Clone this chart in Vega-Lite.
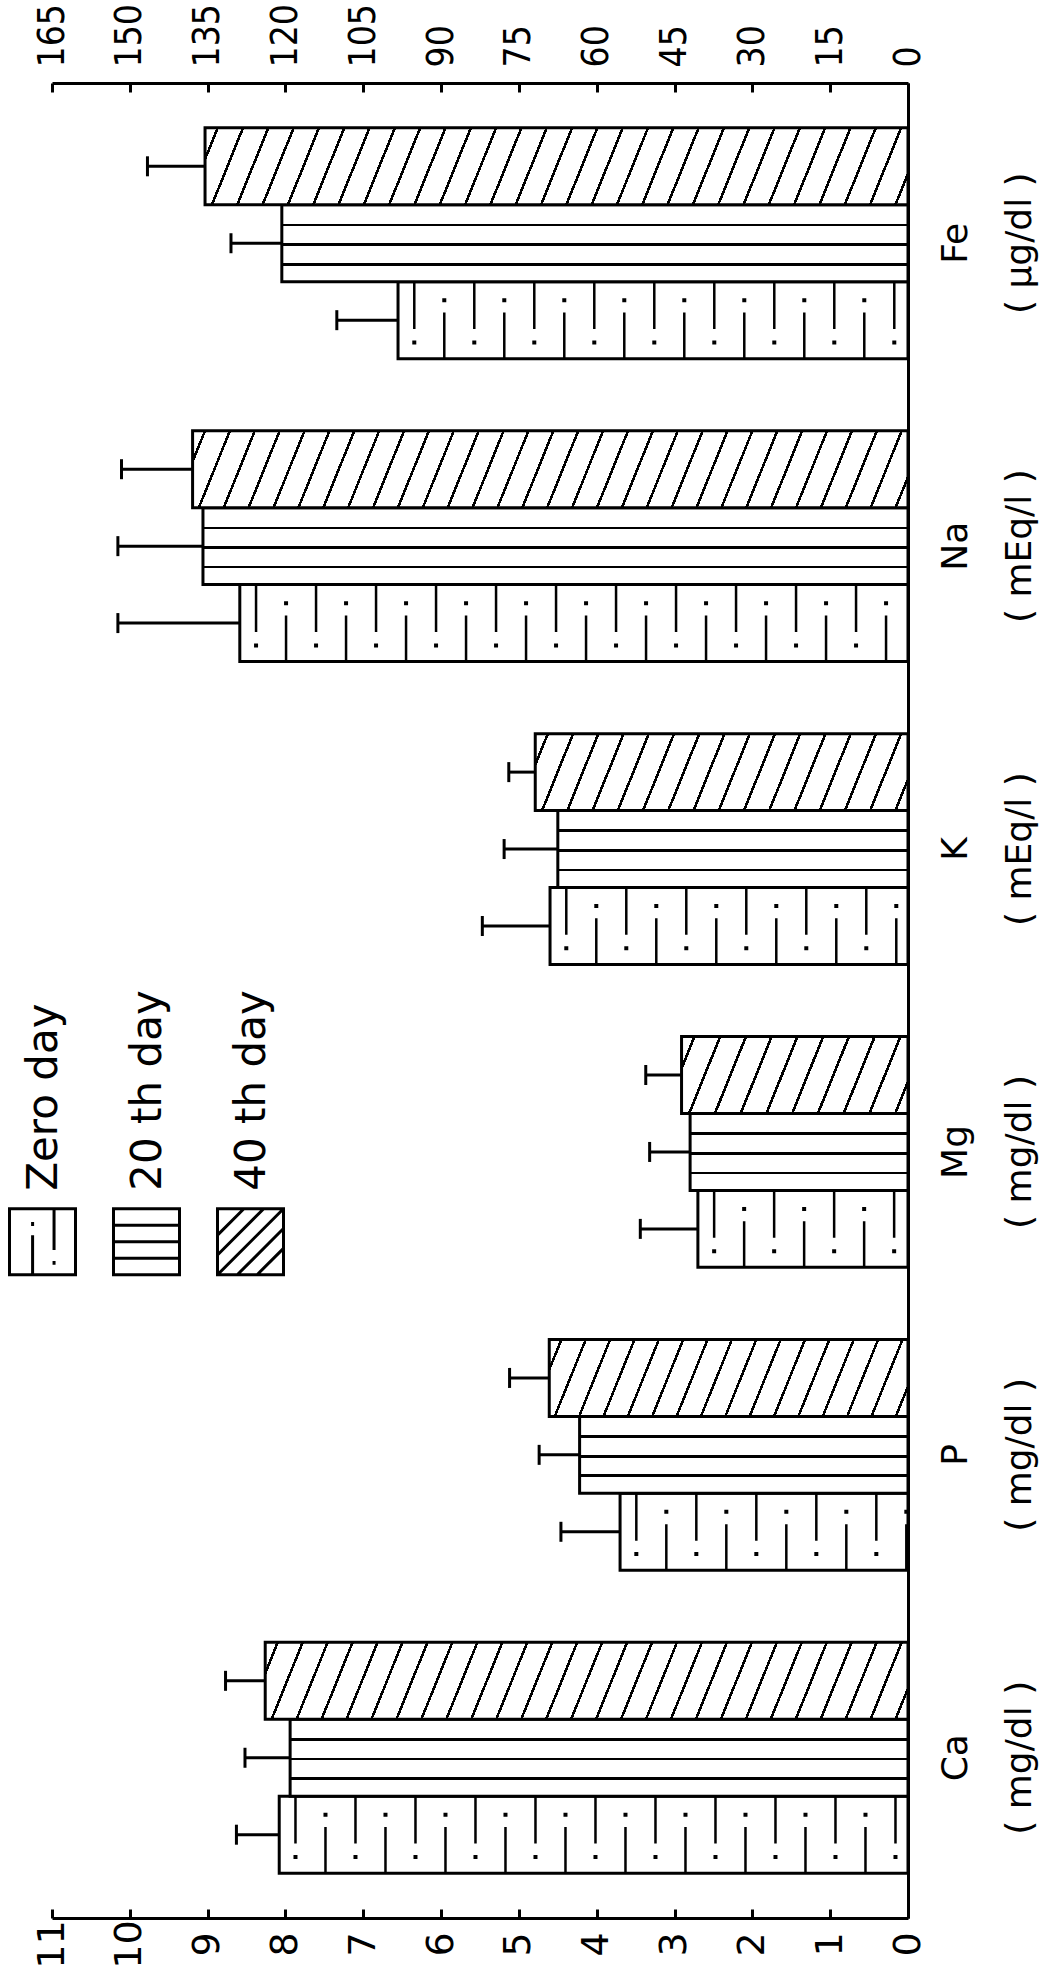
{
"$schema":"https://vega.github.io/schema/vega-lite/v6.json",
"width":856,"height":1835,
"autosize":{"type":"none"},
"padding":{"left":52,"top":83,"right":155,"bottom":56},
"background":"white",
"config":{"view":{"stroke":null},"font":"DejaVu Sans"},
"data":{"values":[
{"element":"Ca","day":"Zero day","value":8.08,"upper":8.63},
{"element":"Ca","day":"20 th day","value":7.94,"upper":8.52},
{"element":"Ca","day":"40 th day","value":8.26,"upper":8.77},
{"element":"P","day":"Zero day","value":3.70,"upper":4.46},
{"element":"P","day":"20 th day","value":4.22,"upper":4.74},
{"element":"P","day":"40 th day","value":4.61,"upper":5.12},
{"element":"Mg","day":"Zero day","value":2.70,"upper":3.44},
{"element":"Mg","day":"20 th day","value":2.80,"upper":3.32},
{"element":"Mg","day":"40 th day","value":2.91,"upper":3.37},
{"element":"K","day":"Zero day","value":4.60,"upper":5.47},
{"element":"K","day":"20 th day","value":4.50,"upper":5.19},
{"element":"K","day":"40 th day","value":4.79,"upper":5.13},
{"element":"Na","day":"Zero day","value":128.8,"upper":152.3},
{"element":"Na","day":"20 th day","value":135.9,"upper":152.3},
{"element":"Na","day":"40 th day","value":137.9,"upper":151.6},
{"element":"Fe","day":"Zero day","value":98.3,"upper":110.1},
{"element":"Fe","day":"20 th day","value":120.7,"upper":130.5},
{"element":"Fe","day":"40 th day","value":135.5,"upper":146.6}
]},
"layer":[
{
"transform":[{"filter":{"field":"element","oneOf":["Ca","P","Mg","K"]}}],
"encoding":{
"x":{"field":"value","type":"quantitative","title":null,"scale":{"domain":[0,11],"reverse":true,"nice":false,"zero":false},
"axis":{"orient":"bottom","values":[0,1,2,3,4,5,6,7,8,9,10,11],"title":null,"grid":false,"domainColor":"black","domainWidth":3,"tickColor":"black","tickWidth":3,"tickSize":-9,"labelAngle":-90,"labelAlign":"center","labelBaseline":"middle","labelFontSize":38,"labelFont":"DejaVu Sans","labelColor":"black","labelPadding":35,"labelFlush":false,"labelOverlap":false}},
"y":{"field":"element","type":"nominal","title":null,"sort":["Fe","Na","K","Mg","P","Ca"],"scale":{"domain":["Fe","Na","K","Mg","P","Ca"],"paddingInner":0.238,"paddingOuter":0.148},
"axis":{"orient":"right","title":null,"ticks":false,"grid":false,"domainColor":"black","domainWidth":3,"labelAngle":-90,"labelAlign":"center","labelBaseline":"top","labelFontSize":36,"labelFont":"DejaVu Sans","labelLineHeight":64,"labelPadding":30,"labelColor":"black","labelLimit":600,
"labelExpr":"datum.label === 'Fe' ? [datum.label, '( µg/dl )'] : ((datum.label === 'Na' || datum.label === 'K') ? [datum.label, '( mEq/l )'] : [datum.label, '( mg/dl )'])"}}
},
"layer":[
{"mark":{"type":"bar","stroke":"black","strokeWidth":3},
"encoding":{
"yOffset":{"field":"day","type":"nominal","sort":["40 th day","20 th day","Zero day"],"scale":{"domain":["40 th day","20 th day","Zero day"],"paddingInner":0,"paddingOuter":0}},
"fill":{"condition":[
{"test":"datum.day === '20 th day'","value":{"gradient":"linear","x1":0,"y1":0,"x2":0,"y2":1,"stops":[{"offset":0,"color":"#fff"},{"offset":0.245,"color":"#fff"},{"offset":0.245,"color":"#000"},{"offset":0.28,"color":"#000"},{"offset":0.28,"color":"#fff"},{"offset":0.5,"color":"#fff"},{"offset":0.5,"color":"#000"},{"offset":0.535,"color":"#000"},{"offset":0.535,"color":"#fff"},{"offset":0.755,"color":"#fff"},{"offset":0.755,"color":"#000"},{"offset":0.79,"color":"#000"},{"offset":0.79,"color":"#fff"},{"offset":1,"color":"#fff"}]}},
{"test":"datum.day === '40 th day' && datum.element === 'Ca'","value":{"gradient":"linear","x1":0,"y1":0,"x2":1.0459,"y2":0.05056,"stops":[{"offset":0,"color":"#fff"},
{"offset":0.0165,"color":"#fff"},{"offset":0.0165,"color":"#000"},{"offset":0.0206,"color":"#000"},{"offset":0.0206,"color":"#fff"},
{"offset":0.0535,"color":"#fff"},{"offset":0.0535,"color":"#000"},{"offset":0.0576,"color":"#000"},{"offset":0.0576,"color":"#fff"},
{"offset":0.0906,"color":"#fff"},{"offset":0.0906,"color":"#000"},{"offset":0.0946,"color":"#000"},{"offset":0.0946,"color":"#fff"},
{"offset":0.1276,"color":"#fff"},{"offset":0.1276,"color":"#000"},{"offset":0.1317,"color":"#000"},{"offset":0.1317,"color":"#fff"},
{"offset":0.1646,"color":"#fff"},{"offset":0.1646,"color":"#000"},{"offset":0.1687,"color":"#000"},{"offset":0.1687,"color":"#fff"},
{"offset":0.2017,"color":"#fff"},{"offset":0.2017,"color":"#000"},{"offset":0.2057,"color":"#000"},{"offset":0.2057,"color":"#fff"},
{"offset":0.2387,"color":"#fff"},{"offset":0.2387,"color":"#000"},{"offset":0.2428,"color":"#000"},{"offset":0.2428,"color":"#fff"},
{"offset":0.2757,"color":"#fff"},{"offset":0.2757,"color":"#000"},{"offset":0.2798,"color":"#000"},{"offset":0.2798,"color":"#fff"},
{"offset":0.3128,"color":"#fff"},{"offset":0.3128,"color":"#000"},{"offset":0.3169,"color":"#000"},{"offset":0.3169,"color":"#fff"},
{"offset":0.3498,"color":"#fff"},{"offset":0.3498,"color":"#000"},{"offset":0.3539,"color":"#000"},{"offset":0.3539,"color":"#fff"},
{"offset":0.3869,"color":"#fff"},{"offset":0.3869,"color":"#000"},{"offset":0.3909,"color":"#000"},{"offset":0.3909,"color":"#fff"},
{"offset":0.4239,"color":"#fff"},{"offset":0.4239,"color":"#000"},{"offset":0.4280,"color":"#000"},{"offset":0.4280,"color":"#fff"},
{"offset":0.4609,"color":"#fff"},{"offset":0.4609,"color":"#000"},{"offset":0.4650,"color":"#000"},{"offset":0.4650,"color":"#fff"},
{"offset":0.4980,"color":"#fff"},{"offset":0.4980,"color":"#000"},{"offset":0.5020,"color":"#000"},{"offset":0.5020,"color":"#fff"},
{"offset":0.5350,"color":"#fff"},{"offset":0.5350,"color":"#000"},{"offset":0.5391,"color":"#000"},{"offset":0.5391,"color":"#fff"},
{"offset":0.5720,"color":"#fff"},{"offset":0.5720,"color":"#000"},{"offset":0.5761,"color":"#000"},{"offset":0.5761,"color":"#fff"},
{"offset":0.6091,"color":"#fff"},{"offset":0.6091,"color":"#000"},{"offset":0.6131,"color":"#000"},{"offset":0.6131,"color":"#fff"},
{"offset":0.6461,"color":"#fff"},{"offset":0.6461,"color":"#000"},{"offset":0.6502,"color":"#000"},{"offset":0.6502,"color":"#fff"},
{"offset":0.6831,"color":"#fff"},{"offset":0.6831,"color":"#000"},{"offset":0.6872,"color":"#000"},{"offset":0.6872,"color":"#fff"},
{"offset":0.7202,"color":"#fff"},{"offset":0.7202,"color":"#000"},{"offset":0.7243,"color":"#000"},{"offset":0.7243,"color":"#fff"},
{"offset":0.7572,"color":"#fff"},{"offset":0.7572,"color":"#000"},{"offset":0.7613,"color":"#000"},{"offset":0.7613,"color":"#fff"},
{"offset":0.7942,"color":"#fff"},{"offset":0.7942,"color":"#000"},{"offset":0.7983,"color":"#000"},{"offset":0.7983,"color":"#fff"},
{"offset":0.8313,"color":"#fff"},{"offset":0.8313,"color":"#000"},{"offset":0.8354,"color":"#000"},{"offset":0.8354,"color":"#fff"},
{"offset":0.8683,"color":"#fff"},{"offset":0.8683,"color":"#000"},{"offset":0.8724,"color":"#000"},{"offset":0.8724,"color":"#fff"},
{"offset":0.9054,"color":"#fff"},{"offset":0.9054,"color":"#000"},{"offset":0.9094,"color":"#000"},{"offset":0.9094,"color":"#fff"},
{"offset":0.9424,"color":"#fff"},{"offset":0.9424,"color":"#000"},{"offset":0.9465,"color":"#000"},{"offset":0.9465,"color":"#fff"},
{"offset":0.9794,"color":"#fff"},{"offset":0.9794,"color":"#000"},{"offset":0.9835,"color":"#000"},{"offset":0.9835,"color":"#fff"},
{"offset":1,"color":"#fff"}]}},
{"test":"datum.day === '40 th day' && datum.element === 'P'","value":{"gradient":"linear","x1":0,"y1":0,"x2":1.0785,"y2":0.09339,"stops":[{"offset":0,"color":"#fff"},
{"offset":0.0278,"color":"#fff"},{"offset":0.0278,"color":"#000"},{"offset":0.0347,"color":"#000"},{"offset":0.0347,"color":"#fff"},
{"offset":0.0903,"color":"#fff"},{"offset":0.0903,"color":"#000"},{"offset":0.0972,"color":"#000"},{"offset":0.0972,"color":"#fff"},
{"offset":0.1528,"color":"#fff"},{"offset":0.1528,"color":"#000"},{"offset":0.1597,"color":"#000"},{"offset":0.1597,"color":"#fff"},
{"offset":0.2153,"color":"#fff"},{"offset":0.2153,"color":"#000"},{"offset":0.2222,"color":"#000"},{"offset":0.2222,"color":"#fff"},
{"offset":0.2778,"color":"#fff"},{"offset":0.2778,"color":"#000"},{"offset":0.2847,"color":"#000"},{"offset":0.2847,"color":"#fff"},
{"offset":0.3403,"color":"#fff"},{"offset":0.3403,"color":"#000"},{"offset":0.3472,"color":"#000"},{"offset":0.3472,"color":"#fff"},
{"offset":0.4028,"color":"#fff"},{"offset":0.4028,"color":"#000"},{"offset":0.4097,"color":"#000"},{"offset":0.4097,"color":"#fff"},
{"offset":0.4653,"color":"#fff"},{"offset":0.4653,"color":"#000"},{"offset":0.4722,"color":"#000"},{"offset":0.4722,"color":"#fff"},
{"offset":0.5278,"color":"#fff"},{"offset":0.5278,"color":"#000"},{"offset":0.5347,"color":"#000"},{"offset":0.5347,"color":"#fff"},
{"offset":0.5903,"color":"#fff"},{"offset":0.5903,"color":"#000"},{"offset":0.5972,"color":"#000"},{"offset":0.5972,"color":"#fff"},
{"offset":0.6528,"color":"#fff"},{"offset":0.6528,"color":"#000"},{"offset":0.6597,"color":"#000"},{"offset":0.6597,"color":"#fff"},
{"offset":0.7153,"color":"#fff"},{"offset":0.7153,"color":"#000"},{"offset":0.7222,"color":"#000"},{"offset":0.7222,"color":"#fff"},
{"offset":0.7778,"color":"#fff"},{"offset":0.7778,"color":"#000"},{"offset":0.7847,"color":"#000"},{"offset":0.7847,"color":"#fff"},
{"offset":0.8403,"color":"#fff"},{"offset":0.8403,"color":"#000"},{"offset":0.8472,"color":"#000"},{"offset":0.8472,"color":"#fff"},
{"offset":0.9028,"color":"#fff"},{"offset":0.9028,"color":"#000"},{"offset":0.9097,"color":"#000"},{"offset":0.9097,"color":"#fff"},
{"offset":0.9653,"color":"#fff"},{"offset":0.9653,"color":"#000"},{"offset":0.9722,"color":"#000"},{"offset":0.9722,"color":"#fff"},
{"offset":1,"color":"#fff"}]}},
{"test":"datum.day === '40 th day' && datum.element === 'Mg'","value":{"gradient":"linear","x1":0,"y1":0,"x2":1.11617,"y2":0.15311,"stops":[{"offset":0,"color":"#fff"},
{"offset":0.0445,"color":"#fff"},{"offset":0.0445,"color":"#000"},{"offset":0.0555,"color":"#000"},{"offset":0.0555,"color":"#fff"},
{"offset":0.1445,"color":"#fff"},{"offset":0.1445,"color":"#000"},{"offset":0.1555,"color":"#000"},{"offset":0.1555,"color":"#fff"},
{"offset":0.2445,"color":"#fff"},{"offset":0.2445,"color":"#000"},{"offset":0.2555,"color":"#000"},{"offset":0.2555,"color":"#fff"},
{"offset":0.3445,"color":"#fff"},{"offset":0.3445,"color":"#000"},{"offset":0.3555,"color":"#000"},{"offset":0.3555,"color":"#fff"},
{"offset":0.4445,"color":"#fff"},{"offset":0.4445,"color":"#000"},{"offset":0.4555,"color":"#000"},{"offset":0.4555,"color":"#fff"},
{"offset":0.5445,"color":"#fff"},{"offset":0.5445,"color":"#000"},{"offset":0.5555,"color":"#000"},{"offset":0.5555,"color":"#fff"},
{"offset":0.6445,"color":"#fff"},{"offset":0.6445,"color":"#000"},{"offset":0.6555,"color":"#000"},{"offset":0.6555,"color":"#fff"},
{"offset":0.7445,"color":"#fff"},{"offset":0.7445,"color":"#000"},{"offset":0.7555,"color":"#000"},{"offset":0.7555,"color":"#fff"},
{"offset":0.8445,"color":"#fff"},{"offset":0.8445,"color":"#000"},{"offset":0.8555,"color":"#000"},{"offset":0.8555,"color":"#fff"},
{"offset":0.9445,"color":"#fff"},{"offset":0.9445,"color":"#000"},{"offset":0.9555,"color":"#000"},{"offset":0.9555,"color":"#fff"},
{"offset":1,"color":"#fff"}]}},
{"test":"datum.day === '40 th day' && datum.element === 'K'","value":{"gradient":"linear","x1":0,"y1":0,"x2":1.07587,"y2":0.08966,"stops":[{"offset":0,"color":"#fff"},
{"offset":0.0278,"color":"#fff"},{"offset":0.0278,"color":"#000"},{"offset":0.0347,"color":"#000"},{"offset":0.0347,"color":"#fff"},
{"offset":0.0903,"color":"#fff"},{"offset":0.0903,"color":"#000"},{"offset":0.0972,"color":"#000"},{"offset":0.0972,"color":"#fff"},
{"offset":0.1528,"color":"#fff"},{"offset":0.1528,"color":"#000"},{"offset":0.1597,"color":"#000"},{"offset":0.1597,"color":"#fff"},
{"offset":0.2153,"color":"#fff"},{"offset":0.2153,"color":"#000"},{"offset":0.2222,"color":"#000"},{"offset":0.2222,"color":"#fff"},
{"offset":0.2778,"color":"#fff"},{"offset":0.2778,"color":"#000"},{"offset":0.2847,"color":"#000"},{"offset":0.2847,"color":"#fff"},
{"offset":0.3403,"color":"#fff"},{"offset":0.3403,"color":"#000"},{"offset":0.3472,"color":"#000"},{"offset":0.3472,"color":"#fff"},
{"offset":0.4028,"color":"#fff"},{"offset":0.4028,"color":"#000"},{"offset":0.4097,"color":"#000"},{"offset":0.4097,"color":"#fff"},
{"offset":0.4653,"color":"#fff"},{"offset":0.4653,"color":"#000"},{"offset":0.4722,"color":"#000"},{"offset":0.4722,"color":"#fff"},
{"offset":0.5278,"color":"#fff"},{"offset":0.5278,"color":"#000"},{"offset":0.5347,"color":"#000"},{"offset":0.5347,"color":"#fff"},
{"offset":0.5903,"color":"#fff"},{"offset":0.5903,"color":"#000"},{"offset":0.5972,"color":"#000"},{"offset":0.5972,"color":"#fff"},
{"offset":0.6528,"color":"#fff"},{"offset":0.6528,"color":"#000"},{"offset":0.6597,"color":"#000"},{"offset":0.6597,"color":"#fff"},
{"offset":0.7153,"color":"#fff"},{"offset":0.7153,"color":"#000"},{"offset":0.7222,"color":"#000"},{"offset":0.7222,"color":"#fff"},
{"offset":0.7778,"color":"#fff"},{"offset":0.7778,"color":"#000"},{"offset":0.7847,"color":"#000"},{"offset":0.7847,"color":"#fff"},
{"offset":0.8403,"color":"#fff"},{"offset":0.8403,"color":"#000"},{"offset":0.8472,"color":"#000"},{"offset":0.8472,"color":"#fff"},
{"offset":0.9028,"color":"#fff"},{"offset":0.9028,"color":"#000"},{"offset":0.9097,"color":"#000"},{"offset":0.9097,"color":"#fff"},
{"offset":0.9653,"color":"#fff"},{"offset":0.9653,"color":"#000"},{"offset":0.9722,"color":"#000"},{"offset":0.9722,"color":"#fff"},
{"offset":1,"color":"#fff"}]}}
],"value":"white"}
}},
{"transform":[{"filter":"datum.day === 'Zero day'"}],
"mark":{"type":"rule","color":"black","strokeWidth":47,"strokeDash":[2.5,57.5],"strokeDashOffset":-15},
"encoding":{"y":{"field":"element","type":"nominal","title":null,"bandPosition":0.77},"x2":{"datum":0}}},
{"transform":[{"filter":"datum.day === 'Zero day'"}],
"mark":{"type":"rule","color":"black","strokeWidth":46,"strokeDash":[2.5,57.5],"strokeDashOffset":-45},
"encoding":{"y":{"field":"element","type":"nominal","title":null,"bandPosition":0.9},"x2":{"datum":0}}},
{"transform":[{"filter":"datum.day === 'Zero day'"}],
"mark":{"type":"rule","color":"black","strokeWidth":4,"strokeDash":[4,56],"strokeDashOffset":-14.25},
"encoding":{"y":{"field":"element","type":"nominal","title":null,"bandPosition":0.93},"x2":{"datum":0}}},
{"transform":[{"filter":"datum.day === 'Zero day'"}],
"mark":{"type":"rule","color":"black","strokeWidth":4,"strokeDash":[4,56],"strokeDashOffset":-44.25},
"encoding":{"y":{"field":"element","type":"nominal","title":null,"bandPosition":0.747},"x2":{"datum":0}}},
{"mark":{"type":"rule","color":"black","strokeWidth":3},
"encoding":{"yOffset":{"field":"day","type":"nominal","sort":["40 th day","20 th day","Zero day"],"scale":{"domain":["40 th day","20 th day","Zero day"],"paddingInner":0,"paddingOuter":0}},"x2":{"field":"upper"}}},
{"mark":{"type":"tick","color":"black","thickness":3,"size":20,"opacity":1},
"encoding":{"yOffset":{"field":"day","type":"nominal","sort":["40 th day","20 th day","Zero day"],"scale":{"domain":["40 th day","20 th day","Zero day"],"paddingInner":0,"paddingOuter":0}},
"x":{"field":"upper","type":"quantitative","title":null}}},
{"transform":[{"filter":"false"}],
"mark":{"type":"point","filled":false,"stroke":"black","strokeWidth":3,"opacity":1},
"encoding":{"shape":{"field":"day","type":"nominal",
"scale":{"domain":["Zero day","20 th day","40 th day"],"range":["M-1,-1H1V1H-1Z M-0.3,1V-0.2 M-0.3,-0.6V-0.48 M0.35,-1V0.25 M0.35,0.58V0.7","M-1,-1H1V1H-1Z M-1,-0.5H1 M-1,0H1 M-1,0.5H1","M-1,-1H1V1H-1Z M-1,-0.2L-0.2,-1 M-1,0.4L0.4,-1 M-1,1L1,-1 M-0.4,1L1,-0.4 M0.2,1L1,0.2"]},
"legend":{"orient":"none","legendX":-44,"legendY":1124,"direction":"horizontal","title":null,"symbolSize":4356,"symbolStrokeWidth":3,"symbolStrokeColor":"black","symbolFillColor":"white","columnPadding":25,"labelFontSize":42,"labelFont":"DejaVu Sans","labelColor":"black","labelLimit":600,"labelOffset":-33,"labelAlign":"left","labelBaseline":"middle",
"encoding":{"labels":{"angle":{"value":-90},"dx":{"value":51}}}}}}}
]
},
{
"transform":[{"filter":{"field":"element","oneOf":["Na","Fe"]}}],
"encoding":{
"x":{"field":"value","type":"quantitative","title":null,"scale":{"domain":[0,165],"reverse":true,"nice":false,"zero":false},
"axis":{"orient":"top","values":[0,15,30,45,60,75,90,105,120,135,150,165],"title":null,"grid":false,"domainColor":"black","domainWidth":3,"tickColor":"black","tickWidth":3,"tickSize":-9,"labelAngle":-90,"labelAlign":"left","labelBaseline":"middle","labelFontSize":37,"labelFont":"DejaVu Sans Condensed, DejaVu Sans","labelColor":"black","labelPadding":25,"labelFlush":false,"labelOverlap":false}},
"y":{"field":"element","type":"nominal","title":null,"sort":["Fe","Na","K","Mg","P","Ca"],"scale":{"domain":["Fe","Na","K","Mg","P","Ca"],"paddingInner":0.238,"paddingOuter":0.148},
"axis":{"orient":"right","title":null,"ticks":false,"grid":false,"domainColor":"black","domainWidth":3,"labelAngle":-90,"labelAlign":"center","labelBaseline":"top","labelFontSize":36,"labelFont":"DejaVu Sans","labelLineHeight":64,"labelPadding":30,"labelColor":"black","labelLimit":600,
"labelExpr":"datum.label === 'Fe' ? [datum.label, '( µg/dl )'] : ((datum.label === 'Na' || datum.label === 'K') ? [datum.label, '( mEq/l )'] : [datum.label, '( mg/dl )'])"}}
},
"layer":[
{"mark":{"type":"bar","stroke":"black","strokeWidth":3},
"encoding":{
"yOffset":{"field":"day","type":"nominal","sort":["40 th day","20 th day","Zero day"],"scale":{"domain":["40 th day","20 th day","Zero day"],"paddingInner":0,"paddingOuter":0}},
"fill":{"condition":[
{"test":"datum.day === '20 th day'","value":{"gradient":"linear","x1":0,"y1":0,"x2":0,"y2":1,"stops":[{"offset":0,"color":"#fff"},{"offset":0.245,"color":"#fff"},{"offset":0.245,"color":"#000"},{"offset":0.28,"color":"#000"},{"offset":0.28,"color":"#fff"},{"offset":0.5,"color":"#fff"},{"offset":0.5,"color":"#000"},{"offset":0.535,"color":"#000"},{"offset":0.535,"color":"#fff"},{"offset":0.755,"color":"#fff"},{"offset":0.755,"color":"#000"},{"offset":0.79,"color":"#000"},{"offset":0.79,"color":"#fff"},{"offset":1,"color":"#fff"}]}},
{"test":"datum.day === '40 th day' && datum.element === 'Na'","value":{"gradient":"linear","x1":0,"y1":0,"x2":1.04147,"y2":0.04523,"stops":[{"offset":0,"color":"#fff"},
{"offset":0.0148,"color":"#fff"},{"offset":0.0148,"color":"#000"},{"offset":0.0185,"color":"#000"},{"offset":0.0185,"color":"#fff"},
{"offset":0.0482,"color":"#fff"},{"offset":0.0482,"color":"#000"},{"offset":0.0518,"color":"#000"},{"offset":0.0518,"color":"#fff"},
{"offset":0.0815,"color":"#fff"},{"offset":0.0815,"color":"#000"},{"offset":0.0852,"color":"#000"},{"offset":0.0852,"color":"#fff"},
{"offset":0.1148,"color":"#fff"},{"offset":0.1148,"color":"#000"},{"offset":0.1185,"color":"#000"},{"offset":0.1185,"color":"#fff"},
{"offset":0.1482,"color":"#fff"},{"offset":0.1482,"color":"#000"},{"offset":0.1518,"color":"#000"},{"offset":0.1518,"color":"#fff"},
{"offset":0.1815,"color":"#fff"},{"offset":0.1815,"color":"#000"},{"offset":0.1852,"color":"#000"},{"offset":0.1852,"color":"#fff"},
{"offset":0.2148,"color":"#fff"},{"offset":0.2148,"color":"#000"},{"offset":0.2185,"color":"#000"},{"offset":0.2185,"color":"#fff"},
{"offset":0.2482,"color":"#fff"},{"offset":0.2482,"color":"#000"},{"offset":0.2518,"color":"#000"},{"offset":0.2518,"color":"#fff"},
{"offset":0.2815,"color":"#fff"},{"offset":0.2815,"color":"#000"},{"offset":0.2852,"color":"#000"},{"offset":0.2852,"color":"#fff"},
{"offset":0.3148,"color":"#fff"},{"offset":0.3148,"color":"#000"},{"offset":0.3185,"color":"#000"},{"offset":0.3185,"color":"#fff"},
{"offset":0.3482,"color":"#fff"},{"offset":0.3482,"color":"#000"},{"offset":0.3518,"color":"#000"},{"offset":0.3518,"color":"#fff"},
{"offset":0.3815,"color":"#fff"},{"offset":0.3815,"color":"#000"},{"offset":0.3852,"color":"#000"},{"offset":0.3852,"color":"#fff"},
{"offset":0.4148,"color":"#fff"},{"offset":0.4148,"color":"#000"},{"offset":0.4185,"color":"#000"},{"offset":0.4185,"color":"#fff"},
{"offset":0.4482,"color":"#fff"},{"offset":0.4482,"color":"#000"},{"offset":0.4518,"color":"#000"},{"offset":0.4518,"color":"#fff"},
{"offset":0.4815,"color":"#fff"},{"offset":0.4815,"color":"#000"},{"offset":0.4852,"color":"#000"},{"offset":0.4852,"color":"#fff"},
{"offset":0.5148,"color":"#fff"},{"offset":0.5148,"color":"#000"},{"offset":0.5185,"color":"#000"},{"offset":0.5185,"color":"#fff"},
{"offset":0.5482,"color":"#fff"},{"offset":0.5482,"color":"#000"},{"offset":0.5518,"color":"#000"},{"offset":0.5518,"color":"#fff"},
{"offset":0.5815,"color":"#fff"},{"offset":0.5815,"color":"#000"},{"offset":0.5852,"color":"#000"},{"offset":0.5852,"color":"#fff"},
{"offset":0.6148,"color":"#fff"},{"offset":0.6148,"color":"#000"},{"offset":0.6185,"color":"#000"},{"offset":0.6185,"color":"#fff"},
{"offset":0.6482,"color":"#fff"},{"offset":0.6482,"color":"#000"},{"offset":0.6518,"color":"#000"},{"offset":0.6518,"color":"#fff"},
{"offset":0.6815,"color":"#fff"},{"offset":0.6815,"color":"#000"},{"offset":0.6852,"color":"#000"},{"offset":0.6852,"color":"#fff"},
{"offset":0.7148,"color":"#fff"},{"offset":0.7148,"color":"#000"},{"offset":0.7185,"color":"#000"},{"offset":0.7185,"color":"#fff"},
{"offset":0.7482,"color":"#fff"},{"offset":0.7482,"color":"#000"},{"offset":0.7518,"color":"#000"},{"offset":0.7518,"color":"#fff"},
{"offset":0.7815,"color":"#fff"},{"offset":0.7815,"color":"#000"},{"offset":0.7852,"color":"#000"},{"offset":0.7852,"color":"#fff"},
{"offset":0.8148,"color":"#fff"},{"offset":0.8148,"color":"#000"},{"offset":0.8185,"color":"#000"},{"offset":0.8185,"color":"#fff"},
{"offset":0.8482,"color":"#fff"},{"offset":0.8482,"color":"#000"},{"offset":0.8518,"color":"#000"},{"offset":0.8518,"color":"#fff"},
{"offset":0.8815,"color":"#fff"},{"offset":0.8815,"color":"#000"},{"offset":0.8852,"color":"#000"},{"offset":0.8852,"color":"#fff"},
{"offset":0.9148,"color":"#fff"},{"offset":0.9148,"color":"#000"},{"offset":0.9185,"color":"#000"},{"offset":0.9185,"color":"#fff"},
{"offset":0.9482,"color":"#fff"},{"offset":0.9482,"color":"#000"},{"offset":0.9518,"color":"#000"},{"offset":0.9518,"color":"#fff"},
{"offset":0.9815,"color":"#fff"},{"offset":0.9815,"color":"#000"},{"offset":0.9852,"color":"#000"},{"offset":0.9852,"color":"#fff"},
{"offset":1,"color":"#fff"}]}},
{"test":"datum.day === '40 th day' && datum.element === 'Fe'","value":{"gradient":"linear","x1":0,"y1":0,"x2":1.04216,"y2":0.04606,"stops":[{"offset":0,"color":"#fff"},
{"offset":0.0153,"color":"#fff"},{"offset":0.0153,"color":"#000"},{"offset":0.0191,"color":"#000"},{"offset":0.0191,"color":"#fff"},
{"offset":0.0498,"color":"#fff"},{"offset":0.0498,"color":"#000"},{"offset":0.0536,"color":"#000"},{"offset":0.0536,"color":"#fff"},
{"offset":0.0843,"color":"#fff"},{"offset":0.0843,"color":"#000"},{"offset":0.0881,"color":"#000"},{"offset":0.0881,"color":"#fff"},
{"offset":0.1188,"color":"#fff"},{"offset":0.1188,"color":"#000"},{"offset":0.1226,"color":"#000"},{"offset":0.1226,"color":"#fff"},
{"offset":0.1533,"color":"#fff"},{"offset":0.1533,"color":"#000"},{"offset":0.1571,"color":"#000"},{"offset":0.1571,"color":"#fff"},
{"offset":0.1878,"color":"#fff"},{"offset":0.1878,"color":"#000"},{"offset":0.1916,"color":"#000"},{"offset":0.1916,"color":"#fff"},
{"offset":0.2222,"color":"#fff"},{"offset":0.2222,"color":"#000"},{"offset":0.2260,"color":"#000"},{"offset":0.2260,"color":"#fff"},
{"offset":0.2567,"color":"#fff"},{"offset":0.2567,"color":"#000"},{"offset":0.2605,"color":"#000"},{"offset":0.2605,"color":"#fff"},
{"offset":0.2912,"color":"#fff"},{"offset":0.2912,"color":"#000"},{"offset":0.2950,"color":"#000"},{"offset":0.2950,"color":"#fff"},
{"offset":0.3257,"color":"#fff"},{"offset":0.3257,"color":"#000"},{"offset":0.3295,"color":"#000"},{"offset":0.3295,"color":"#fff"},
{"offset":0.3602,"color":"#fff"},{"offset":0.3602,"color":"#000"},{"offset":0.3640,"color":"#000"},{"offset":0.3640,"color":"#fff"},
{"offset":0.3947,"color":"#fff"},{"offset":0.3947,"color":"#000"},{"offset":0.3984,"color":"#000"},{"offset":0.3984,"color":"#fff"},
{"offset":0.4291,"color":"#fff"},{"offset":0.4291,"color":"#000"},{"offset":0.4329,"color":"#000"},{"offset":0.4329,"color":"#fff"},
{"offset":0.4636,"color":"#fff"},{"offset":0.4636,"color":"#000"},{"offset":0.4674,"color":"#000"},{"offset":0.4674,"color":"#fff"},
{"offset":0.4981,"color":"#fff"},{"offset":0.4981,"color":"#000"},{"offset":0.5019,"color":"#000"},{"offset":0.5019,"color":"#fff"},
{"offset":0.5326,"color":"#fff"},{"offset":0.5326,"color":"#000"},{"offset":0.5364,"color":"#000"},{"offset":0.5364,"color":"#fff"},
{"offset":0.5671,"color":"#fff"},{"offset":0.5671,"color":"#000"},{"offset":0.5709,"color":"#000"},{"offset":0.5709,"color":"#fff"},
{"offset":0.6016,"color":"#fff"},{"offset":0.6016,"color":"#000"},{"offset":0.6053,"color":"#000"},{"offset":0.6053,"color":"#fff"},
{"offset":0.6360,"color":"#fff"},{"offset":0.6360,"color":"#000"},{"offset":0.6398,"color":"#000"},{"offset":0.6398,"color":"#fff"},
{"offset":0.6705,"color":"#fff"},{"offset":0.6705,"color":"#000"},{"offset":0.6743,"color":"#000"},{"offset":0.6743,"color":"#fff"},
{"offset":0.7050,"color":"#fff"},{"offset":0.7050,"color":"#000"},{"offset":0.7088,"color":"#000"},{"offset":0.7088,"color":"#fff"},
{"offset":0.7395,"color":"#fff"},{"offset":0.7395,"color":"#000"},{"offset":0.7433,"color":"#000"},{"offset":0.7433,"color":"#fff"},
{"offset":0.7740,"color":"#fff"},{"offset":0.7740,"color":"#000"},{"offset":0.7778,"color":"#000"},{"offset":0.7778,"color":"#fff"},
{"offset":0.8084,"color":"#fff"},{"offset":0.8084,"color":"#000"},{"offset":0.8122,"color":"#000"},{"offset":0.8122,"color":"#fff"},
{"offset":0.8429,"color":"#fff"},{"offset":0.8429,"color":"#000"},{"offset":0.8467,"color":"#000"},{"offset":0.8467,"color":"#fff"},
{"offset":0.8774,"color":"#fff"},{"offset":0.8774,"color":"#000"},{"offset":0.8812,"color":"#000"},{"offset":0.8812,"color":"#fff"},
{"offset":0.9119,"color":"#fff"},{"offset":0.9119,"color":"#000"},{"offset":0.9157,"color":"#000"},{"offset":0.9157,"color":"#fff"},
{"offset":0.9464,"color":"#fff"},{"offset":0.9464,"color":"#000"},{"offset":0.9502,"color":"#000"},{"offset":0.9502,"color":"#fff"},
{"offset":0.9809,"color":"#fff"},{"offset":0.9809,"color":"#000"},{"offset":0.9847,"color":"#000"},{"offset":0.9847,"color":"#fff"},
{"offset":1,"color":"#fff"}]}}
],"value":"white"}
}},
{"transform":[{"filter":"datum.day === 'Zero day'"}],
"mark":{"type":"rule","color":"black","strokeWidth":47,"strokeDash":[2.5,57.5],"strokeDashOffset":-15},
"encoding":{"y":{"field":"element","type":"nominal","title":null,"bandPosition":0.77},"x2":{"datum":0}}},
{"transform":[{"filter":"datum.day === 'Zero day'"}],
"mark":{"type":"rule","color":"black","strokeWidth":46,"strokeDash":[2.5,57.5],"strokeDashOffset":-45},
"encoding":{"y":{"field":"element","type":"nominal","title":null,"bandPosition":0.9},"x2":{"datum":0}}},
{"transform":[{"filter":"datum.day === 'Zero day'"}],
"mark":{"type":"rule","color":"black","strokeWidth":4,"strokeDash":[4,56],"strokeDashOffset":-14.25},
"encoding":{"y":{"field":"element","type":"nominal","title":null,"bandPosition":0.93},"x2":{"datum":0}}},
{"transform":[{"filter":"datum.day === 'Zero day'"}],
"mark":{"type":"rule","color":"black","strokeWidth":4,"strokeDash":[4,56],"strokeDashOffset":-44.25},
"encoding":{"y":{"field":"element","type":"nominal","title":null,"bandPosition":0.747},"x2":{"datum":0}}},
{"mark":{"type":"rule","color":"black","strokeWidth":3},
"encoding":{"yOffset":{"field":"day","type":"nominal","sort":["40 th day","20 th day","Zero day"],"scale":{"domain":["40 th day","20 th day","Zero day"],"paddingInner":0,"paddingOuter":0}},"x2":{"field":"upper"}}},
{"mark":{"type":"tick","color":"black","thickness":3,"size":20,"opacity":1},
"encoding":{"yOffset":{"field":"day","type":"nominal","sort":["40 th day","20 th day","Zero day"],"scale":{"domain":["40 th day","20 th day","Zero day"],"paddingInner":0,"paddingOuter":0}},
"x":{"field":"upper","type":"quantitative","title":null}}}
]
}
],
"resolve":{"scale":{"x":"independent"},"axis":{"x":"independent"}}
}
